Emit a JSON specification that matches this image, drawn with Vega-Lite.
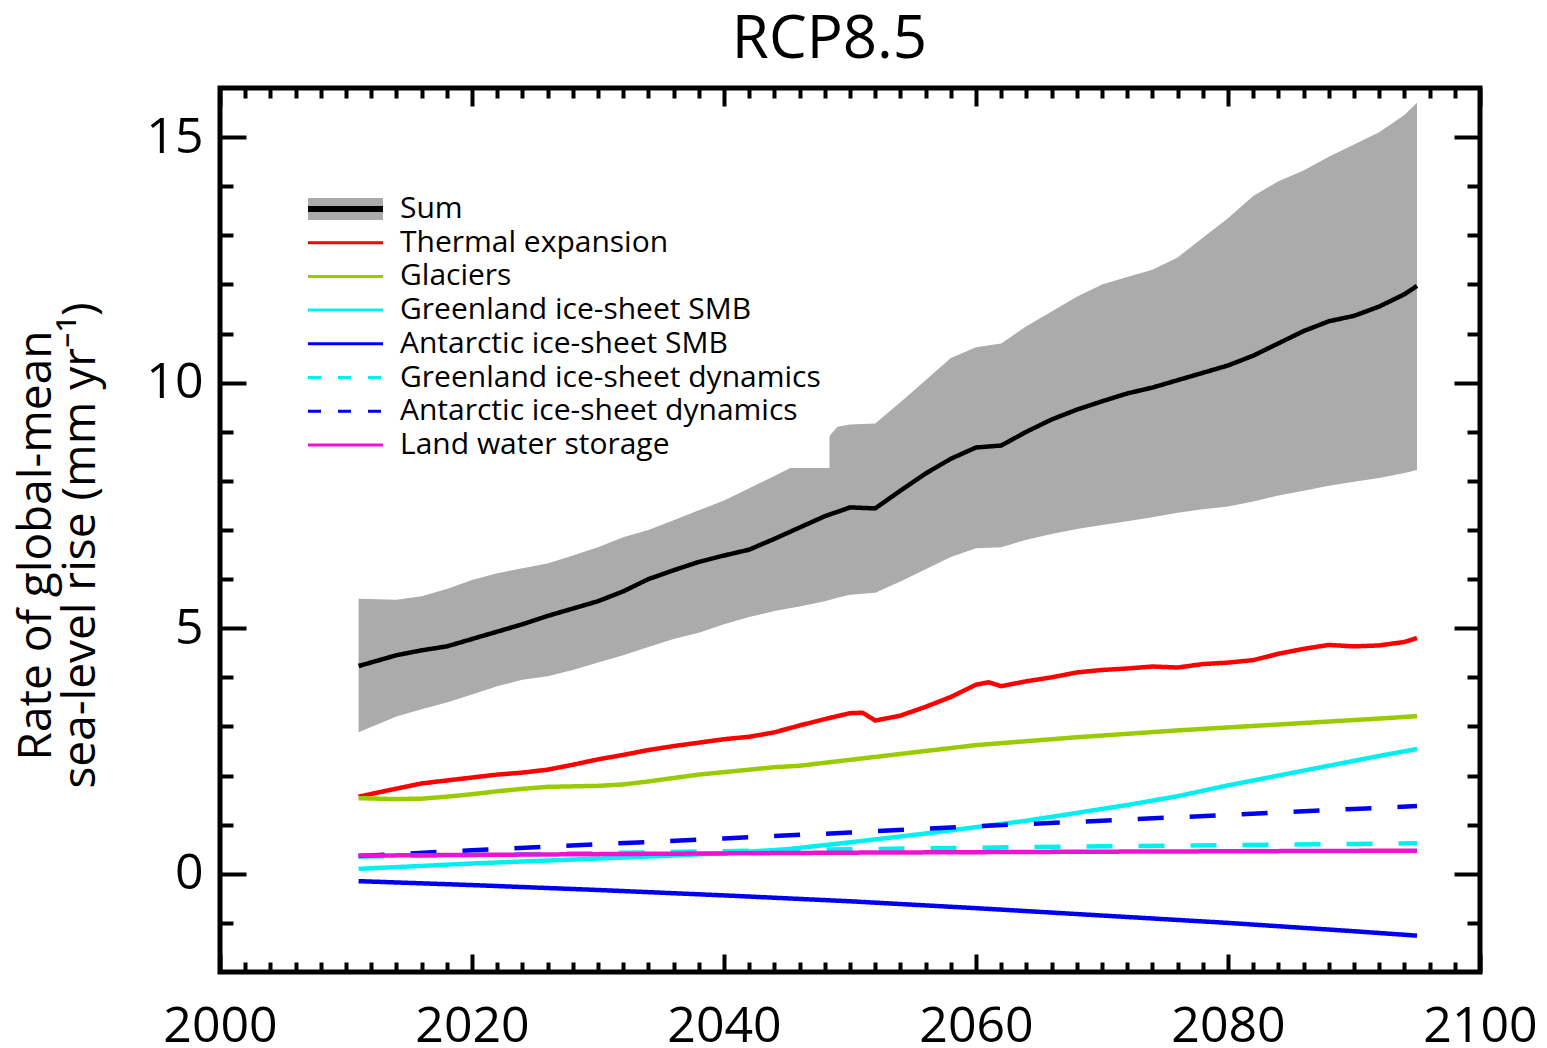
{
  "$schema": "https://vega.github.io/schema/vega-lite/v6.json",
  "width": 1260,
  "height": 884,
  "autosize": {"type": "none"},
  "padding": {"left": 220, "top": 88, "right": 67, "bottom": 76},
  "background": "white",
  "config": {
    "view": {"stroke": "black", "strokeWidth": 5},
    "axis": {"grid": false, "domain": false, "tickColor": "black", "tickWidth": 4, "tickCap": "butt", "labelFont": "Open Sans", "labelFontSize": 50, "labelColor": "black", "labelFlush": false, "labelOverlap": false, "labelBound": false},
    "legend": {"orient": "none", "legendX": 81.5, "legendY": 98, "fillColor": "white", "padding": 8, "labelFont": "Open Sans", "labelFontSize": 30, "labelColor": "black", "labelOffset": 60.5, "symbolSize": 900, "symbolStrokeWidth": 0, "rowPadding": 3.7, "labelLimit": 700}
  },
  "datasets": {
    "band": [
      {"year": 2011, "lo": 2.88, "hi": 5.6}, {"year": 2014, "lo": 3.2, "hi": 5.58}, {"year": 2016, "lo": 3.35, "hi": 5.65},
      {"year": 2018, "lo": 3.49, "hi": 5.8}, {"year": 2020, "lo": 3.65, "hi": 5.98}, {"year": 2022, "lo": 3.82, "hi": 6.12},
      {"year": 2024, "lo": 3.95, "hi": 6.22}, {"year": 2026, "lo": 4.02, "hi": 6.32}, {"year": 2028, "lo": 4.15, "hi": 6.48},
      {"year": 2030, "lo": 4.3, "hi": 6.65}, {"year": 2032, "lo": 4.45, "hi": 6.85}, {"year": 2034, "lo": 4.62, "hi": 7.0},
      {"year": 2036, "lo": 4.78, "hi": 7.2}, {"year": 2038, "lo": 4.91, "hi": 7.4}, {"year": 2040, "lo": 5.08, "hi": 7.6},
      {"year": 2042, "lo": 5.23, "hi": 7.85}, {"year": 2044, "lo": 5.35, "hi": 8.1}, {"year": 2046, "lo": 5.44, "hi": 8.36},
      {"year": 2048, "lo": 5.55, "hi": 8.8}, {"year": 2049, "lo": 5.62, "hi": 9.1}, {"year": 2050, "lo": 5.68, "hi": 9.15},
      {"year": 2052, "lo": 5.72, "hi": 9.17}, {"year": 2054, "lo": 5.95, "hi": 9.6}, {"year": 2056, "lo": 6.2, "hi": 10.05},
      {"year": 2058, "lo": 6.45, "hi": 10.5}, {"year": 2060, "lo": 6.63, "hi": 10.72}, {"year": 2062, "lo": 6.65, "hi": 10.8},
      {"year": 2064, "lo": 6.8, "hi": 11.15}, {"year": 2066, "lo": 6.92, "hi": 11.45}, {"year": 2068, "lo": 7.02, "hi": 11.75},
      {"year": 2070, "lo": 7.1, "hi": 12.0}, {"year": 2072, "lo": 7.18, "hi": 12.15}, {"year": 2074, "lo": 7.26, "hi": 12.3},
      {"year": 2076, "lo": 7.35, "hi": 12.55}, {"year": 2078, "lo": 7.42, "hi": 12.95}, {"year": 2080, "lo": 7.48, "hi": 13.35},
      {"year": 2082, "lo": 7.58, "hi": 13.8}, {"year": 2084, "lo": 7.7, "hi": 14.1}, {"year": 2086, "lo": 7.8, "hi": 14.32},
      {"year": 2088, "lo": 7.9, "hi": 14.6}, {"year": 2090, "lo": 7.98, "hi": 14.85}, {"year": 2092, "lo": 8.06, "hi": 15.1},
      {"year": 2094, "lo": 8.16, "hi": 15.45}, {"year": 2095, "lo": 8.22, "hi": 15.7}
    ],
    "lines": [
      {"series": "Sum", "year": 2011, "value": 4.23}, {"series": "Sum", "year": 2014, "value": 4.45}, {"series": "Sum", "year": 2016, "value": 4.55},
      {"series": "Sum", "year": 2018, "value": 4.63}, {"series": "Sum", "year": 2020, "value": 4.78}, {"series": "Sum", "year": 2022, "value": 4.93},
      {"series": "Sum", "year": 2024, "value": 5.08}, {"series": "Sum", "year": 2026, "value": 5.25}, {"series": "Sum", "year": 2028, "value": 5.4},
      {"series": "Sum", "year": 2030, "value": 5.55}, {"series": "Sum", "year": 2032, "value": 5.75}, {"series": "Sum", "year": 2034, "value": 6.0},
      {"series": "Sum", "year": 2036, "value": 6.18}, {"series": "Sum", "year": 2038, "value": 6.35}, {"series": "Sum", "year": 2040, "value": 6.48},
      {"series": "Sum", "year": 2042, "value": 6.6}, {"series": "Sum", "year": 2044, "value": 6.82}, {"series": "Sum", "year": 2046, "value": 7.05},
      {"series": "Sum", "year": 2048, "value": 7.28}, {"series": "Sum", "year": 2050, "value": 7.46}, {"series": "Sum", "year": 2052, "value": 7.44},
      {"series": "Sum", "year": 2054, "value": 7.8}, {"series": "Sum", "year": 2056, "value": 8.15}, {"series": "Sum", "year": 2058, "value": 8.45},
      {"series": "Sum", "year": 2060, "value": 8.68}, {"series": "Sum", "year": 2062, "value": 8.72}, {"series": "Sum", "year": 2064, "value": 9.0},
      {"series": "Sum", "year": 2066, "value": 9.25}, {"series": "Sum", "year": 2068, "value": 9.45}, {"series": "Sum", "year": 2070, "value": 9.62},
      {"series": "Sum", "year": 2072, "value": 9.78}, {"series": "Sum", "year": 2074, "value": 9.9}, {"series": "Sum", "year": 2076, "value": 10.05},
      {"series": "Sum", "year": 2078, "value": 10.2}, {"series": "Sum", "year": 2080, "value": 10.35}, {"series": "Sum", "year": 2082, "value": 10.55},
      {"series": "Sum", "year": 2084, "value": 10.8}, {"series": "Sum", "year": 2086, "value": 11.05}, {"series": "Sum", "year": 2088, "value": 11.25},
      {"series": "Sum", "year": 2090, "value": 11.36}, {"series": "Sum", "year": 2092, "value": 11.55}, {"series": "Sum", "year": 2094, "value": 11.8},
      {"series": "Sum", "year": 2095, "value": 11.97},

      {"series": "Thermal expansion", "year": 2011, "value": 1.57}, {"series": "Thermal expansion", "year": 2013, "value": 1.68},
      {"series": "Thermal expansion", "year": 2016, "value": 1.84}, {"series": "Thermal expansion", "year": 2018, "value": 1.9},
      {"series": "Thermal expansion", "year": 2020, "value": 1.96}, {"series": "Thermal expansion", "year": 2022, "value": 2.02},
      {"series": "Thermal expansion", "year": 2024, "value": 2.06}, {"series": "Thermal expansion", "year": 2026, "value": 2.12},
      {"series": "Thermal expansion", "year": 2028, "value": 2.22}, {"series": "Thermal expansion", "year": 2030, "value": 2.33},
      {"series": "Thermal expansion", "year": 2032, "value": 2.42}, {"series": "Thermal expansion", "year": 2034, "value": 2.52},
      {"series": "Thermal expansion", "year": 2036, "value": 2.6}, {"series": "Thermal expansion", "year": 2038, "value": 2.67},
      {"series": "Thermal expansion", "year": 2040, "value": 2.74}, {"series": "Thermal expansion", "year": 2042, "value": 2.79},
      {"series": "Thermal expansion", "year": 2044, "value": 2.88}, {"series": "Thermal expansion", "year": 2046, "value": 3.02},
      {"series": "Thermal expansion", "year": 2048, "value": 3.15}, {"series": "Thermal expansion", "year": 2050, "value": 3.27},
      {"series": "Thermal expansion", "year": 2051, "value": 3.28}, {"series": "Thermal expansion", "year": 2052, "value": 3.12},
      {"series": "Thermal expansion", "year": 2054, "value": 3.22}, {"series": "Thermal expansion", "year": 2056, "value": 3.4},
      {"series": "Thermal expansion", "year": 2058, "value": 3.6}, {"series": "Thermal expansion", "year": 2060, "value": 3.85},
      {"series": "Thermal expansion", "year": 2061, "value": 3.9}, {"series": "Thermal expansion", "year": 2062, "value": 3.82},
      {"series": "Thermal expansion", "year": 2064, "value": 3.92}, {"series": "Thermal expansion", "year": 2066, "value": 4.0},
      {"series": "Thermal expansion", "year": 2068, "value": 4.1}, {"series": "Thermal expansion", "year": 2070, "value": 4.15},
      {"series": "Thermal expansion", "year": 2072, "value": 4.18}, {"series": "Thermal expansion", "year": 2074, "value": 4.22},
      {"series": "Thermal expansion", "year": 2076, "value": 4.2}, {"series": "Thermal expansion", "year": 2078, "value": 4.27},
      {"series": "Thermal expansion", "year": 2080, "value": 4.3}, {"series": "Thermal expansion", "year": 2082, "value": 4.35},
      {"series": "Thermal expansion", "year": 2084, "value": 4.48}, {"series": "Thermal expansion", "year": 2086, "value": 4.58},
      {"series": "Thermal expansion", "year": 2088, "value": 4.66}, {"series": "Thermal expansion", "year": 2090, "value": 4.63},
      {"series": "Thermal expansion", "year": 2092, "value": 4.65}, {"series": "Thermal expansion", "year": 2094, "value": 4.72},
      {"series": "Thermal expansion", "year": 2095, "value": 4.8},

      {"series": "Glaciers", "year": 2011, "value": 1.54}, {"series": "Glaciers", "year": 2014, "value": 1.52}, {"series": "Glaciers", "year": 2016, "value": 1.53},
      {"series": "Glaciers", "year": 2018, "value": 1.57}, {"series": "Glaciers", "year": 2020, "value": 1.62}, {"series": "Glaciers", "year": 2022, "value": 1.68},
      {"series": "Glaciers", "year": 2024, "value": 1.73}, {"series": "Glaciers", "year": 2026, "value": 1.77}, {"series": "Glaciers", "year": 2028, "value": 1.78},
      {"series": "Glaciers", "year": 2030, "value": 1.79}, {"series": "Glaciers", "year": 2032, "value": 1.82}, {"series": "Glaciers", "year": 2034, "value": 1.88},
      {"series": "Glaciers", "year": 2036, "value": 1.95}, {"series": "Glaciers", "year": 2038, "value": 2.02}, {"series": "Glaciers", "year": 2040, "value": 2.07},
      {"series": "Glaciers", "year": 2042, "value": 2.12}, {"series": "Glaciers", "year": 2044, "value": 2.17}, {"series": "Glaciers", "year": 2046, "value": 2.2},
      {"series": "Glaciers", "year": 2048, "value": 2.26}, {"series": "Glaciers", "year": 2050, "value": 2.32}, {"series": "Glaciers", "year": 2052, "value": 2.38},
      {"series": "Glaciers", "year": 2054, "value": 2.44}, {"series": "Glaciers", "year": 2056, "value": 2.5}, {"series": "Glaciers", "year": 2058, "value": 2.56},
      {"series": "Glaciers", "year": 2060, "value": 2.62}, {"series": "Glaciers", "year": 2064, "value": 2.7}, {"series": "Glaciers", "year": 2068, "value": 2.78},
      {"series": "Glaciers", "year": 2072, "value": 2.85}, {"series": "Glaciers", "year": 2076, "value": 2.92}, {"series": "Glaciers", "year": 2080, "value": 2.98},
      {"series": "Glaciers", "year": 2084, "value": 3.04}, {"series": "Glaciers", "year": 2088, "value": 3.1}, {"series": "Glaciers", "year": 2092, "value": 3.16},
      {"series": "Glaciers", "year": 2095, "value": 3.21},

      {"series": "Greenland ice-sheet SMB", "year": 2011, "value": 0.1}, {"series": "Greenland ice-sheet SMB", "year": 2016, "value": 0.16},
      {"series": "Greenland ice-sheet SMB", "year": 2020, "value": 0.21}, {"series": "Greenland ice-sheet SMB", "year": 2025, "value": 0.26},
      {"series": "Greenland ice-sheet SMB", "year": 2030, "value": 0.31}, {"series": "Greenland ice-sheet SMB", "year": 2035, "value": 0.36},
      {"series": "Greenland ice-sheet SMB", "year": 2040, "value": 0.42}, {"series": "Greenland ice-sheet SMB", "year": 2045, "value": 0.5},
      {"series": "Greenland ice-sheet SMB", "year": 2050, "value": 0.64}, {"series": "Greenland ice-sheet SMB", "year": 2053, "value": 0.73},
      {"series": "Greenland ice-sheet SMB", "year": 2056, "value": 0.82}, {"series": "Greenland ice-sheet SMB", "year": 2060, "value": 0.95},
      {"series": "Greenland ice-sheet SMB", "year": 2064, "value": 1.08}, {"series": "Greenland ice-sheet SMB", "year": 2068, "value": 1.24},
      {"series": "Greenland ice-sheet SMB", "year": 2072, "value": 1.4}, {"series": "Greenland ice-sheet SMB", "year": 2076, "value": 1.58},
      {"series": "Greenland ice-sheet SMB", "year": 2080, "value": 1.8}, {"series": "Greenland ice-sheet SMB", "year": 2084, "value": 2.0},
      {"series": "Greenland ice-sheet SMB", "year": 2088, "value": 2.2}, {"series": "Greenland ice-sheet SMB", "year": 2092, "value": 2.4},
      {"series": "Greenland ice-sheet SMB", "year": 2095, "value": 2.54},

      {"series": "Antarctic ice-sheet SMB", "year": 2011, "value": -0.15}, {"series": "Antarctic ice-sheet SMB", "year": 2020, "value": -0.23},
      {"series": "Antarctic ice-sheet SMB", "year": 2030, "value": -0.33}, {"series": "Antarctic ice-sheet SMB", "year": 2040, "value": -0.44},
      {"series": "Antarctic ice-sheet SMB", "year": 2050, "value": -0.56}, {"series": "Antarctic ice-sheet SMB", "year": 2060, "value": -0.7},
      {"series": "Antarctic ice-sheet SMB", "year": 2070, "value": -0.85}, {"series": "Antarctic ice-sheet SMB", "year": 2080, "value": -1.0},
      {"series": "Antarctic ice-sheet SMB", "year": 2090, "value": -1.17}, {"series": "Antarctic ice-sheet SMB", "year": 2095, "value": -1.26},

      {"series": "Greenland ice-sheet dynamics", "year": 2011, "value": 0.35}, {"series": "Greenland ice-sheet dynamics", "year": 2030, "value": 0.42},
      {"series": "Greenland ice-sheet dynamics", "year": 2050, "value": 0.5}, {"series": "Greenland ice-sheet dynamics", "year": 2070, "value": 0.56},
      {"series": "Greenland ice-sheet dynamics", "year": 2095, "value": 0.62},

      {"series": "Antarctic ice-sheet dynamics", "year": 2011, "value": 0.36}, {"series": "Antarctic ice-sheet dynamics", "year": 2020, "value": 0.48},
      {"series": "Antarctic ice-sheet dynamics", "year": 2030, "value": 0.6}, {"series": "Antarctic ice-sheet dynamics", "year": 2040, "value": 0.72},
      {"series": "Antarctic ice-sheet dynamics", "year": 2050, "value": 0.84}, {"series": "Antarctic ice-sheet dynamics", "year": 2060, "value": 0.97},
      {"series": "Antarctic ice-sheet dynamics", "year": 2070, "value": 1.08}, {"series": "Antarctic ice-sheet dynamics", "year": 2080, "value": 1.2},
      {"series": "Antarctic ice-sheet dynamics", "year": 2090, "value": 1.32}, {"series": "Antarctic ice-sheet dynamics", "year": 2095, "value": 1.38},

      {"series": "Land water storage", "year": 2011, "value": 0.37}, {"series": "Land water storage", "year": 2030, "value": 0.4},
      {"series": "Land water storage", "year": 2050, "value": 0.43}, {"series": "Land water storage", "year": 2070, "value": 0.45},
      {"series": "Land water storage", "year": 2095, "value": 0.47}
    ]
  },
  "layer": [
    {
      "data": {"name": "band"},
      "mark": {"type": "area", "color": "#ababab", "opacity": 1},
      "encoding": {
        "x": {"field": "year", "type": "quantitative", "scale": {"domain": [2000, 2100], "nice": false, "zero": false},
          "axis": {"orient": "bottom", "title": null, "values": [2000,2002,2004,2006,2008,2010,2012,2014,2016,2018,2020,2022,2024,2026,2028,2030,2032,2034,2036,2038,2040,2042,2044,2046,2048,2050,2052,2054,2056,2058,2060,2062,2064,2066,2068,2070,2072,2074,2076,2078,2080,2082,2084,2086,2088,2090,2092,2094,2096,2098,2100],
            "labelExpr": "datum.value % 20 === 0 ? format(datum.value, 'd') : ''", "labelBaseline": "alphabetic", "labelPadding": 87,
            "tickSize": {"expr": "datum.value % 20 === 0 ? -18 : -10"}}},
        "y": {"field": "lo", "type": "quantitative", "scale": {"domain": [-2, 16], "nice": false, "zero": false},
          "axis": {"orient": "left", "values": [-1,0,1,2,3,4,5,6,7,8,9,10,11,12,13,14,15],
            "labelExpr": "datum.value % 5 === 0 ? format(datum.value, 'd') : ''", "labelPadding": 43,
            "tickSize": {"expr": "datum.value % 5 === 0 ? -26 : -13"},
            "title": ["Rate of global-mean", "sea-level rise (mm yr⁻¹)"], "titleFont": "Open Sans", "titleFontSize": 46, "titleFontWeight": "normal", "titleColor": "black",
            "titleLineHeight": 44, "titleAngle": -90, "titleAlign": "center", "titleBaseline": "alphabetic", "titleX": -170, "titleY": 457}},
        "y2": {"field": "hi"}
      }
    },
    {
      "data": {"name": "lines"},
      "mark": {"type": "line", "strokeWidth": 4.5, "strokeCap": "butt", "strokeJoin": "round"},
      "encoding": {
        "x": {"field": "year", "type": "quantitative", "scale": {"domain": [2000, 2100], "nice": false, "zero": false},
          "axis": {"orient": "top", "labels": false, "values": [2000,2002,2004,2006,2008,2010,2012,2014,2016,2018,2020,2022,2024,2026,2028,2030,2032,2034,2036,2038,2040,2042,2044,2046,2048,2050,2052,2054,2056,2058,2060,2062,2064,2066,2068,2070,2072,2074,2076,2078,2080,2082,2084,2086,2088,2090,2092,2094,2096,2098,2100],
            "tickSize": {"expr": "datum.value % 20 === 0 ? -18 : -10"},
            "title": "RCP8.5", "titleFont": "Open Sans", "titleFontSize": 60, "titleFontWeight": "normal", "titleColor": "black",
            "titleAngle": 0, "titleAlign": "center", "titleBaseline": "alphabetic", "titleX": 609, "titleY": -31}},
        "y": {"field": "value", "type": "quantitative", "scale": {"domain": [-2, 16], "nice": false, "zero": false},
          "axis": {"orient": "right", "title": null, "labels": false, "values": [-1,0,1,2,3,4,5,6,7,8,9,10,11,12,13,14,15],
            "tickSize": {"expr": "datum.value % 5 === 0 ? -26 : -13"}}},
        "stroke": {"field": "series", "type": "nominal",
          "scale": {"domain": ["Sum", "Thermal expansion", "Glaciers", "Greenland ice-sheet SMB", "Antarctic ice-sheet SMB", "Greenland ice-sheet dynamics", "Antarctic ice-sheet dynamics", "Land water storage"],
            "range": ["#000000", "#ff0000", "#99cc00", "#00f0f0", "#0000f0", "#00f0f0", "#0000f0", "#f012d2"]},
          "legend": {"title": null, "symbolType": "M-1.1,-0.1L3.9,-0.1L3.9,0.1L-1.1,0.1Z",
            "encode": {"symbols": {"update": {
              "shape": [
                {"test": "datum.value === 'Sum'", "value": "M-1.1,-0.733L3.9,-0.733L3.9,0.733L-1.1,0.733Z"},
                {"test": "indexof(datum.value, 'dynamics') >= 0", "value": "M-1.1,-0.1L-0.233,-0.1L-0.233,0.1L-1.1,0.1Z M0.9,-0.1L1.767,-0.1L1.767,0.1L0.9,0.1Z M2.9,-0.1L3.767,-0.1L3.767,0.1L2.9,0.1Z"},
                {"value": "M-1.1,-0.1L3.9,-0.1L3.9,0.1L-1.1,0.1Z"}],
              "fill": [
                {"test": "datum.value === 'Sum'", "value": {"gradient": "linear", "x1": 0, "y1": 0, "x2": 0, "y2": 1, "stops": [{"offset": 0, "color": "#ababab"}, {"offset": 0.386, "color": "#ababab"}, {"offset": 0.386, "color": "#000000"}, {"offset": 0.614, "color": "#000000"}, {"offset": 0.614, "color": "#ababab"}, {"offset": 1, "color": "#ababab"}]}},
                {"test": "datum.value === 'Thermal expansion'", "value": "#ff0000"},
                {"test": "datum.value === 'Glaciers'", "value": "#99cc00"},
                {"test": "datum.value === 'Greenland ice-sheet SMB' || datum.value === 'Greenland ice-sheet dynamics'", "value": "#00f0f0"},
                {"test": "datum.value === 'Antarctic ice-sheet SMB' || datum.value === 'Antarctic ice-sheet dynamics'", "value": "#0000f0"},
                {"value": "#f012d2"}],
              "opacity": {"value": 1}
            }}}}},
        "strokeDash": {"field": "series", "type": "nominal",
          "scale": {"domain": ["Sum", "Thermal expansion", "Glaciers", "Greenland ice-sheet SMB", "Antarctic ice-sheet SMB", "Greenland ice-sheet dynamics", "Antarctic ice-sheet dynamics", "Land water storage"],
            "range": [[1, 0], [1, 0], [1, 0], [1, 0], [1, 0], [26, 26], [26, 26], [1, 0]]},
          "legend": null}
      }
    }
  ],
  "resolve": {"axis": {"x": "independent", "y": "independent"}}
}
